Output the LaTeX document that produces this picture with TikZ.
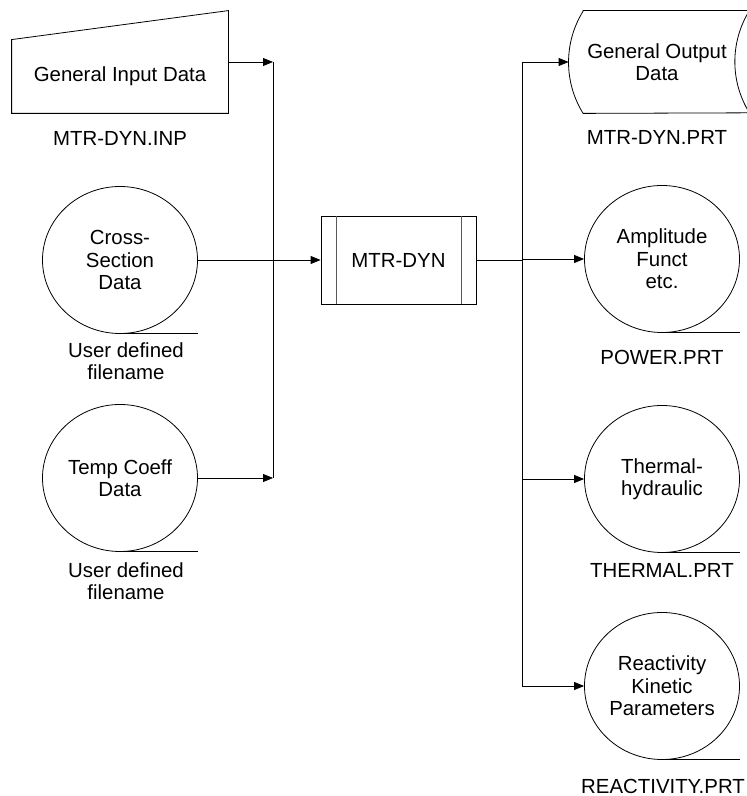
\documentclass[tikz,border=0pt]{standalone}
\usepackage{fontspec}
\setmainfont{Liberation Sans}
\usetikzlibrary{arrows.meta,shapes.geometric}

\begin{document}
\begin{tikzpicture}[x=1pt, y=1pt, line width=0.8pt, >={Triangle[length=10pt,width=8pt]},
        every node/.append style={font=\fontsize{20.4}{22.5}\selectfont, align=center}]
      \tikzstyle{store} = [ellipse, draw, minimum width=155, minimum height=147, inner sep=0pt]
      \tikzstyle{file} = [inner sep=0pt]
      \useasboundingbox (0,0) rectangle (747,796);

      % input side
      \node (input) [minimum width=216, minimum height=73, inner sep=0pt] at (120,719.5) {General Input Data};
      \draw (input.south west) -- (input.south east) -- ([yshift=29pt]input.north east) -- (input.north west) -- cycle;
      \node (inputfile) [file] at (120,658) {MTR-DYN.INP};
      \node (cross) [store] at (120,536) {Cross-\\Section\\Data};
      \draw (cross.south) -- ++(78,0);
      \node (crossfile) [file] at (126,435) {User defined\\filename};
      \node (temp) [store] at (120,318) {Temp Coeff\\Data};
      \draw (temp.south) -- ++(78,0);
      \node (tempfile) [file] at (126,215) {User defined\\filename};

      \coordinate (busL top) at (273,734);
      \coordinate (busL bot) at (273,318);
      \draw (busL top) -- (busL bot);
      \draw[->] ([yshift=14.5pt]input.east) -- (busL top);
      \draw[->] (temp) -- (busL bot);

      % program
      \node (mtr) [draw, minimum width=155, minimum height=88, inner sep=0pt] at (398.5,536) {MTR-DYN};
      \draw[gray!70!black] ([xshift=16pt]mtr.north west) -- ([xshift=16pt]mtr.south west);
      \draw[gray!70!black] ([xshift=-15pt]mtr.north east) -- ([xshift=-15pt]mtr.south east);
      \draw[->] (cross) -- (mtr);

      % output side
      \coordinate (busR top) at (522,734);
      \coordinate (busR bot) at (522,110);
      \draw (mtr) -- (mtr -| busR top);
      \draw (busR top) -- (busR bot);

      \node (genout) [minimum width=176, minimum height=102, inner sep=0pt] at (657,734) {General Output\\Data};
      \draw ([xshift=14.5pt]genout.north west) -- ([xshift=4pt]genout.north east)
        arc[start angle=148.2, end angle=211.8, radius=97]
        -- ([xshift=14.5pt]genout.south west)
        arc[start angle=211.8, end angle=148.2, radius=97] -- cycle;
      \node (genoutfile) [file] at (657,659) {MTR-DYN.PRT};

      \node (amp) [store] at (662,537) {Amplitude\\Funct\\etc.};
      \draw (amp.south) -- ++(78,0);
      \node (ampfile) [file] at (662,439) {POWER.PRT};
      \node (therm) [store] at (662,317) {Thermal-\\hydraulic};
      \draw (therm.south) -- ++(78,0);
      \node (thermfile) [file] at (662,226) {THERMAL.PRT};
      \node (react) [store] at (662,110) {Reactivity\\Kinetic\\Parameters};
      \draw (react.south) -- ++(78,0);
      \node (reactfile) [file] at (663,10) {REACTIVITY.PRT};

      \draw[->] (busR top) -- (genout);
      \draw[->] (amp -| busR top) -- (amp);
      \draw[->] (therm -| busR top) -- (therm);
      \draw[->] (react -| busR top) -- (react);
\end{tikzpicture}
\end{document}
